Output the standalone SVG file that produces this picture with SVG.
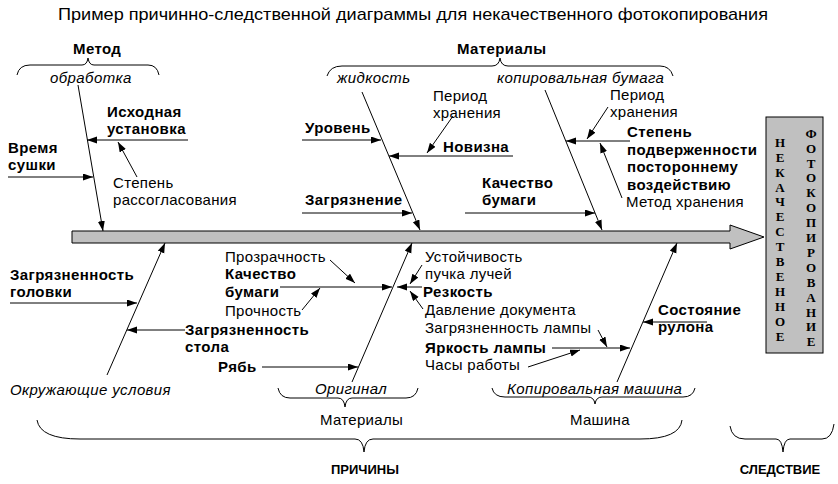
<svg xmlns="http://www.w3.org/2000/svg" width="838" height="484" viewBox="0 0 838 484">
<style>
text{font-family:"Liberation Sans",Arial,sans-serif;fill:#000}
.t{font-size:17px}
.b{font-size:15px;font-weight:bold;letter-spacing:0.4px}
.r{font-size:15px;letter-spacing:0.3px}
.i{font-size:15px;font-style:italic;letter-spacing:0.4px}
.n{font-size:13px;font-weight:bold}
.v{font-family:"Liberation Serif","Times New Roman",serif;font-size:13px;font-weight:bold;text-anchor:middle}
.br{fill:none;stroke:#000;stroke-width:1}
.c line{stroke:#000;stroke-width:1;marker-end:url(#ah)}
</style>
<defs>
<marker id="ah" markerUnits="userSpaceOnUse" markerWidth="11" markerHeight="8" refX="10" refY="3.5" orient="auto">
<path d="M0,0 L10,3.5 L0,7 z" fill="#000"/>
</marker>
</defs>
<rect width="838" height="484" fill="#fff"/>
<text class="t" x="413" y="20" text-anchor="middle" textLength="710" lengthAdjust="spacingAndGlyphs">Пример причинно-следственной диаграммы для некачественного фотокопирования</text>

<g id="spine">
<polygon points="72,231 730,231 730,225 764,237 730,249 730,243 72,243" fill="#c0c0c0" stroke="#000" stroke-width="1"/>
</g>

<g id="effect">
<rect x="766" y="117" width="57" height="236" fill="#c0c0c0" stroke="#000" stroke-width="1"/>
<text class="v" x="780" y="147">Н</text><text class="v" x="780" y="162">Е</text><text class="v" x="780" y="177">К</text><text class="v" x="780" y="192">А</text><text class="v" x="780" y="206">Ч</text><text class="v" x="780" y="221">Е</text><text class="v" x="780" y="236">С</text><text class="v" x="780" y="251">Т</text><text class="v" x="780" y="266">В</text><text class="v" x="780" y="281">Е</text><text class="v" x="780" y="296">Н</text><text class="v" x="780" y="311">Н</text><text class="v" x="780" y="326">О</text><text class="v" x="780" y="341">Е</text>
<text class="v" x="811" y="138">Ф</text><text class="v" x="811" y="153">О</text><text class="v" x="811" y="168">Т</text><text class="v" x="811" y="182">О</text><text class="v" x="811" y="197">К</text><text class="v" x="811" y="212">О</text><text class="v" x="811" y="227">П</text><text class="v" x="811" y="242">И</text><text class="v" x="811" y="257">Р</text><text class="v" x="811" y="272">О</text><text class="v" x="811" y="287">В</text><text class="v" x="811" y="302">А</text><text class="v" x="811" y="317">Н</text><text class="v" x="811" y="331">И</text><text class="v" x="811" y="346">Е</text>
</g>

<g id="method">
<text class="b" x="73" y="54">Метод</text>
<path class="br" d="M17,75 Q19,65 30,65 L82,65 Q87,65 88,58 Q89,65 94,65 L148,65 Q157,65 159,75"/>
<text class="i" x="50" y="83">обработка</text>
<text class="b" x="107" y="117">Исходная</text>
<text class="b" x="107" y="134">установка</text>
<text class="b" x="8" y="153">Время</text>
<text class="b" x="8" y="170">сушки</text>
<text class="r" x="113" y="188">Степень</text>
<text class="r" x="113" y="205">рассогласования</text>
</g>

<g id="materials-top">
<text class="b" x="457" y="54">Материалы</text>
<path class="br" d="M327,76 Q330,66 342,66 L492,66 Q499,66 500,58 Q501,66 508,66 L660,66 Q670,66 673,76"/>
<text class="i" x="337" y="83">жидкость</text>
<text class="i" x="497" y="83">копировальная бумага</text>
<text class="r" x="433" y="101">Период</text>
<text class="r" x="433" y="118">хранения</text>
<text class="b" x="305" y="133">Уровень</text>
<text class="b" x="443" y="152">Новизна</text>
<text class="b" x="305" y="205">Загрязнение</text>
<text class="b" x="482" y="188">Качество</text>
<text class="b" x="482" y="205">бумаги</text>
<text class="r" x="610" y="100">Период</text>
<text class="r" x="610" y="117">хранения</text>
<text class="b" x="627" y="137">Степень</text>
<text class="b" x="627" y="155">подверженности</text>
<text class="b" x="627" y="172">постороннему</text>
<text class="b" x="627" y="190">воздействию</text>
<text class="r" x="626" y="207">Метод хранения</text>
</g>

<g id="environment">
<text class="b" x="10" y="280">Загрязненность</text>
<text class="b" x="10" y="297">головки</text>
<text class="b" x="185" y="335">Загрязненность</text>
<text class="b" x="185" y="352">стола</text>
<text class="i" x="10" y="395">Окружающие условия</text>
</g>

<g id="original">
<text class="b" x="218" y="372">Рябь</text>
<text class="r" x="225" y="262">Прозрачность</text>
<text class="b" x="225" y="279">Качество</text>
<text class="b" x="225" y="297">бумаги</text>
<text class="r" x="225" y="316">Прочность</text>
<text class="i" x="315" y="394">Оригинал</text>
<path class="br" d="M278,388 Q280,398 290,398 L338,398 Q344,398 345,407 Q346,398 352,398 L406,398 Q416,398 418,388"/>
<text class="r" x="320" y="425">Материалы</text>
</g>

<g id="machine">
<text class="r" x="425" y="262">Устойчивость</text>
<text class="r" x="425" y="279">пучка лучей</text>
<text class="b" x="423" y="297">Резкость</text>
<text class="r" x="425" y="315">Давление документа</text>
<text class="r" x="425" y="333">Загрязненность лампы</text>
<text class="b" x="425" y="353">Яркость лампы</text>
<text class="r" x="425" y="370">Часы работы</text>
<text class="b" x="658" y="315">Состояние</text>
<text class="b" x="658" y="332">рулона</text>
<text class="i" x="507" y="394">Копировальная машина</text>
<path class="br" d="M492,388 Q494,397 505,397 L588,397 Q594,397 595,404 Q596,397 602,397 L683,397 Q693,397 695,388"/>
<text class="r" x="570" y="425">Машина</text>
</g>

<g id="causes">
<path class="br" d="M37,420 Q40,439 80,439 L355,439 Q363,439 364,452 Q365,439 373,439 L640,439 Q680,439 682,420"/>
<text class="n" x="365" y="474" text-anchor="middle">ПРИЧИНЫ</text>
</g>
<g id="consequence">
<path class="br" d="M730,426 Q732,439 745,439 L776,439 Q782,439 783,452 Q784,439 790,439 L822,439 Q832,439 834,424"/>
<text class="n" x="780" y="474" text-anchor="middle">СЛЕДСТВИЕ</text>
</g>

<g id="connectors" class="c">
<line x1="78" y1="85" x2="103" y2="231"/>
<line x1="188" y1="140" x2="87" y2="140"/>
<line x1="137" y1="177" x2="118" y2="142"/>
<line x1="8" y1="177" x2="93" y2="177"/>
<line x1="362" y1="92" x2="420" y2="230"/>
<line x1="302" y1="140" x2="381" y2="140"/>
<line x1="453" y1="116" x2="427" y2="153"/>
<line x1="513" y1="156" x2="389" y2="156"/>
<line x1="302" y1="213" x2="412" y2="213"/>
<line x1="545" y1="90" x2="602" y2="230"/>
<line x1="465" y1="213" x2="595" y2="213"/>
<line x1="608" y1="107" x2="587" y2="139"/>
<line x1="630" y1="141" x2="566" y2="141"/>
<line x1="622" y1="198" x2="600" y2="143"/>
<line x1="107" y1="375" x2="165" y2="243"/>
<line x1="10" y1="303" x2="137" y2="303"/>
<line x1="185" y1="330" x2="127" y2="330"/>
<line x1="352" y1="382" x2="412" y2="243"/>
<line x1="262" y1="367" x2="358" y2="367"/>
<line x1="280" y1="287" x2="392" y2="287"/>
<line x1="330" y1="260" x2="355" y2="283"/>
<line x1="302" y1="310" x2="320" y2="288"/>
<line x1="422" y1="287" x2="397" y2="287"/>
<line x1="422" y1="265" x2="410" y2="284"/>
<line x1="423" y1="309" x2="410" y2="291"/>
<line x1="617" y1="382" x2="677" y2="243"/>
<line x1="707" y1="322" x2="643" y2="322"/>
<line x1="552" y1="348" x2="630" y2="348"/>
<line x1="598" y1="330" x2="607" y2="347"/>
<line x1="528" y1="367" x2="580" y2="350"/>
</g>
</svg>
